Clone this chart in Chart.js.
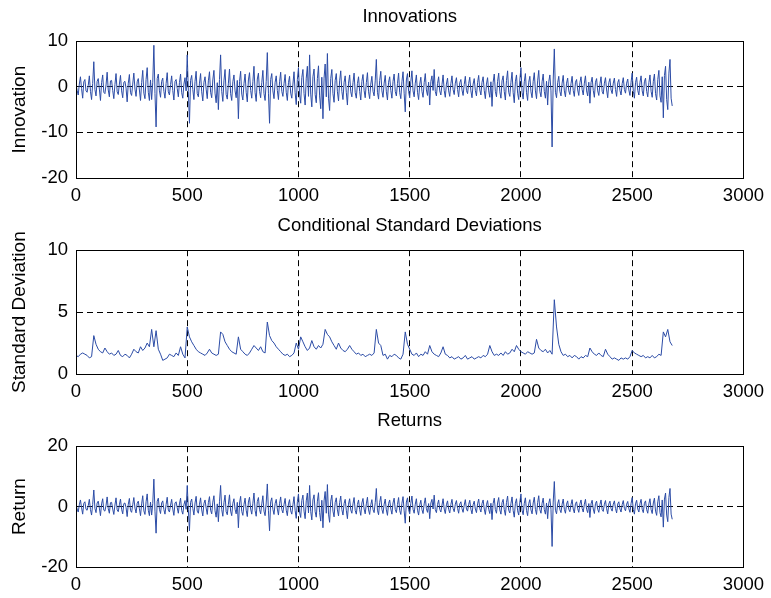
<!DOCTYPE html>
<html>
<head>
<meta charset="utf-8">
<script src="https://cdn.jsdelivr.net/npm/chart.js@4/dist/chart.umd.min.js"></script>
<style>
  body { margin: 0; background: #fff; }
  canvas { display: block; }
</style>
</head>
<body>
<canvas id="innov" width="771" height="210"></canvas>
<canvas id="sigma" width="771" height="190"></canvas>
<canvas id="ret" width="771" height="198"></canvas>
<script>
// samples: innovations every 5 obs, sigma every 10
const INNOV_STEP = 5;
const SIGMA_STEP = 10;

const innovations = [
  0.5, -0.8, -1.8, 0.6, 2.2, -0.4, -2.5, 1.1, 1.6, -0.9, -1.2, 0.3, 2.4, -1.0, -2.8, 0.7, 5.5, -0.6, -2.0, 1.2,
  1.8, -0.5, -3.0, 0.9, 2.6, -1.2, -1.5, 0.4, 3.2, -0.7, -2.2, 1.3, 1.4, -0.8, -2.6, 0.5, 2.9, -1.1, -1.7, 0.6,
  2.5, -0.9, -2.4, 1.0, 1.2, -0.3, -3.3, 0.8, 2.7, -1.3, -1.9, 0.6, 3.0, -0.5, -2.1, 1.1, 1.8, -0.7, -3.0, 0.9,
  3.6, -1.4, -2.6, 1.6, 4.2, -1.2, -3.0, 1.5, -2.8, 1.0, 9.1, -1.5, -8.8, 1.8, 2.8, -0.9, -2.3, 1.2, 1.9, -1.0,
  -2.5, 0.7, 3.1, -1.1, -1.8, 0.5, 2.4, -0.8, -2.9, 1.2, 1.6, -0.4, -2.2, 0.9, 2.8, -1.3, -2.5, 0.6, 2.0, -0.9,
  7.0, -1.0, -8.0, 1.4, 2.5, -0.6, -2.8, 1.2, 3.4, -1.5, -2.2, 0.8, 2.9, -1.1, -3.1, 1.0, 2.2, -0.5, -2.6, 1.3,
  3.3, -1.2, -2.4, 1.5, 3.6, -1.4, -3.5, 0.9, -5.0, 1.6, 7.0, -1.0, -3.2, 1.3, 3.8, -1.7, -2.7, 0.8, 3.9, -1.5,
  -3.0, 1.1, 2.6, -0.9, -2.4, 1.4, -7.0, 1.2, 3.4, -1.6, -2.9, 0.7, 2.8, -1.2, -3.3, 1.5, 3.1, -0.8, -2.5, 1.1,
  4.5, -1.3, -3.2, 1.7, 3.0, -1.0, -2.4, 0.9, 3.6, -1.5, -3.0, 1.2, 7.5, -1.4, -8.0, 1.6, 2.9, -0.9, -2.6, 1.0,
  2.4, -0.8, -2.8, 1.1, 3.2, -1.0, -2.1, 0.7, 2.7, -1.2, -3.0, 0.9, 2.3, -1.4, -2.5, 0.6, 3.3, -1.3, -3.9, 1.6,
  4.2, -1.8, -3.6, 2.0, 3.8, -1.5, -4.0, 1.9, 4.5, -2.1, 7.0, -1.6, -4.4, 2.2, 3.9, -1.7, -3.5, 1.8, 4.6, -2.0,
  -4.8, 2.1, -7.0, 1.9, 5.0, -2.2, 7.3, -2.5, -5.2, 1.8, 3.8, -1.5, -3.4, 1.4, 2.9, -1.1, -3.1, 1.3, 3.5, -1.0,
  -2.8, 1.0, 2.4, -1.2, -4.0, 0.8, 2.6, -1.1, -2.2, 0.9, 3.0, -1.3, -2.5, 0.7, 2.2, -1.0, -2.9, 1.2, 2.7, -0.8,
  -2.4, 0.9, 3.1, -1.1, -2.6, 0.6, 2.3, -1.0, -2.0, 1.3, 6.0, -1.2, -2.7, 1.4, 3.4, -0.9, -2.3, 0.8, 2.5, -1.1,
  -2.9, 1.0, 2.2, -0.8, -2.5, 1.2, 2.8, -1.0, -2.0, 0.7, 3.0, -1.3, -2.6, 1.1, 3.3, -1.4, -5.5, 1.5, 2.9, -1.0,
  -2.4, 1.1, 3.5, -0.9, -2.2, 0.8, 2.6, -1.2, -2.8, 0.6, 2.1, -1.0, -2.3, 0.9, 2.9, -0.7, -1.9, 1.0, -4.0, 1.2,
  2.4, -0.8, 3.8, -1.0, -2.0, 0.7, 2.2, -0.9, -1.8, 0.5, 2.6, -0.8, -2.3, 0.6, 1.9, -0.9, -2.1, 0.7, 2.4, -0.6,
  -1.7, 0.8, 2.0, -0.6, -2.2, 0.9, 1.6, -0.7, -1.9, 0.5, 2.3, -0.8, -1.5, 0.7, 2.1, -0.9, -2.4, 0.6, 1.8, -0.8,
  -2.0, 0.9, 2.5, -0.7, -1.8, 1.0, 2.2, -0.8, -2.6, 0.6, 2.0, -0.9, -2.3, 1.1, -4.3, 1.0, 2.8, -1.0, -2.2, 1.2,
  3.0, -1.1, -2.5, 1.3, 2.4, -1.0, -2.9, 1.4, 3.5, -1.2, -2.1, 1.0, 3.2, -1.3, -3.5, 1.1, 2.6, -1.4, -2.8, 1.5,
  4.2, -1.2, -2.7, 1.1, 2.9, -1.3, -3.0, 1.0, 2.3, -1.1, -2.4, 1.2, 3.1, -0.9, -2.6, 1.3, 3.6, -1.0, -2.2, 1.1,
  2.8, -1.0, -2.5, 1.2, -4.0, 1.1, 2.6, -0.9, -13.2, 1.5, 8.3, -1.2, -2.4, 0.9, 2.3, -1.0, -2.0, 0.8, 2.5, -0.9,
  -2.2, 0.8, 1.9, -0.9, -1.7, 0.7, 2.3, -0.8, -2.1, 1.0, 1.6, -0.7, -1.9, 0.9, 2.2, -0.6, -1.8, 0.8, 2.4, -0.9,
  -2.0, 1.0, -3.6, 0.9, 2.1, -0.8, -2.3, 1.0, 1.8, -0.9, -1.9, 0.7, 2.2, -1.0, -1.6, 0.8, 2.0, -0.7, -2.4, 0.9,
  1.8, -0.7, -1.5, 0.8, 1.9, -0.6, -2.1, 0.9, 1.6, -0.8, -1.8, 0.7, 2.0, -0.6, -1.4, 0.8, 1.7, -0.7, -1.9, 1.0,
  3.0, -1.0, -2.5, 0.9, 2.1, -0.8, -1.8, 1.0, 2.4, -0.9, -2.0, 1.1, 1.9, -1.0, -2.2, 0.9, 2.6, -1.0, -2.3, 1.2,
  2.8, -1.5, -2.9, 1.6, 3.6, -2.0, -3.4, 2.2, -6.8, 2.5, 4.5, -2.8, -5.0, 3.0, 6.0, -2.5, -4.2
];

const stdDevs = [
  1.5, 1.4, 1.6, 1.7, 1.6, 1.5, 1.3, 1.4, 3.1, 2.4,
  2.0, 1.8, 1.7, 2.1, 1.8, 1.6, 1.7, 1.5, 1.6, 1.9,
  1.5, 1.4, 1.6, 1.5, 1.3, 1.6, 2.0, 1.8, 1.7, 2.2,
  1.9, 2.1, 2.5, 2.2, 3.6, 2.2, 3.5, 2.0, 1.6, 1.1,
  1.2, 1.3, 1.6, 1.5, 1.4, 1.7, 1.5, 2.2, 1.6, 1.3,
  3.8, 3.0, 2.6, 2.3, 2.0, 1.8, 1.7, 1.6, 1.5, 1.7,
  2.0, 1.7, 1.6, 1.5, 1.6, 3.4, 3.2, 2.6, 2.3, 2.0,
  1.8, 1.7, 1.6, 3.0, 2.0, 1.8, 1.6, 1.5, 1.7, 2.0,
  2.3, 2.1, 1.9, 2.2, 1.8, 1.7, 4.2, 3.1, 2.7, 2.5,
  2.2, 2.0, 1.8, 1.6, 1.5, 1.6, 1.4, 1.5, 1.7, 2.5,
  2.0, 3.0, 2.6, 2.2, 1.9, 2.1, 2.7, 2.2, 2.0, 2.3,
  2.1, 2.4, 3.6, 3.2, 3.0, 2.6, 2.3, 2.0, 2.5, 2.1,
  1.9, 1.8, 2.0, 2.3, 2.0, 1.8, 1.6, 1.7, 1.5, 1.6,
  1.4, 1.5, 1.6, 1.5, 1.7, 3.6, 2.5, 2.3, 1.5, 1.6,
  1.2, 1.5, 1.4, 1.6, 1.5, 1.3, 1.2, 1.6, 3.4, 2.4,
  2.0, 1.6, 1.5, 1.7, 1.4, 1.6, 1.5, 1.8, 1.6, 2.3,
  1.8, 1.6, 1.5, 1.4, 1.7, 2.2, 1.6, 1.5, 1.3, 1.4,
  1.2, 1.3, 1.4, 1.2, 1.3, 1.5, 1.2, 1.3, 1.4, 1.2,
  1.3, 1.4, 1.3, 1.5, 1.4, 1.6, 2.3, 1.8, 1.5, 1.6,
  1.5, 1.7, 1.5, 1.8, 1.6, 1.7, 2.0, 1.8, 2.3, 2.0,
  1.8, 1.7, 1.6, 1.8, 1.7, 1.6, 1.7, 2.8, 2.1, 1.9,
  1.8, 2.0, 1.7, 1.9, 1.6, 6.0, 3.8, 2.4, 1.8, 1.5,
  1.6, 1.4, 1.5, 1.3, 1.5, 1.4, 1.2, 1.4, 1.3, 1.5,
  1.4, 2.1, 1.8, 1.6, 1.5, 1.7, 1.5, 1.4, 2.0, 1.6,
  1.4, 1.2, 1.3, 1.2, 1.1, 1.3, 1.2, 1.3, 1.2, 1.4,
  1.9, 1.7, 1.6, 1.5, 1.4, 1.5, 1.3, 1.4, 1.3, 1.5,
  1.3, 1.4, 1.6, 1.5, 3.4, 3.0, 3.6, 2.6, 2.3
];

// returns trace the innovations almost exactly in the figure
const returns = innovations;

const titles = ['Innovations', 'Conditional Standard Deviations', 'Returns'];
const yLabels = ['Innovation', 'Standard Deviation', 'Return'];
const yMin = [-20, 0, -20];
const yMax = [10, 10, 20];
const yStep = [10, 5, 20];
const xMax = 3000;
const xStep = 500;

const FONT = "'Liberation Sans', Arial, Helvetica, sans-serif";
const LINE = 'rgb(44, 76, 166)';

const framePlugin = {
  id: 'frame',
  afterDatasetsDraw(chart) {
    const { ctx, chartArea: a } = chart;
    ctx.save();
    ctx.strokeStyle = '#000';
    ctx.lineWidth = 1;
    ctx.strokeRect(Math.round(a.left) + 0.5, Math.round(a.top) + 0.5,
      Math.round(a.right - a.left), Math.round(a.bottom - a.top));
    ctx.restore();
  }
};

function toPoints(values, step) {
  return values.map((v, i) => ({ x: i * step, y: v }));
}

function gridColor(min, max) {
  return c => (c.tick && (c.tick.value === min || c.tick.value === max)) ? 'rgba(0,0,0,0)' : '#000';
}

const plain = v => String(v);

function makePanel(id, k, values, step, titlePad, xAxisHeight) {
  const ctx = document.getElementById(id).getContext('2d');
  return new Chart(ctx, {
    type: 'line',
    data: {
      datasets: [{
        data: toPoints(values, step),
        borderColor: LINE,
        borderWidth: 1,
        pointRadius: 0,
        tension: 0,
        fill: false
      }]
    },
    options: {
      responsive: false,
      animation: false,
      events: [],
      layout: { padding: { left: 0, right: 25, top: 0, bottom: 0 } },
      plugins: {
        legend: { display: false },
        tooltip: { enabled: false },
        title: {
          display: true,
          text: titles[k],
          color: '#000',
          fullSize: false,
          font: { family: FONT, size: 18.5, weight: 'normal' },
          padding: titlePad
        }
      },
      scales: {
        x: {
          type: 'linear',
          min: 0,
          max: xMax,
          afterFit: s => { s.height = xAxisHeight; },
          ticks: {
            stepSize: xStep,
            color: '#000',
            padding: 7,
            maxRotation: 0,
            callback: plain,
            font: { family: FONT, size: 18.5 }
          },
          grid: { color: gridColor(0, xMax), lineWidth: 1, drawTicks: false },
          border: { display: true, color: '#000', dash: [6, 4] }
        },
        y: {
          min: yMin[k],
          max: yMax[k],
          afterFit: s => { s.width = 76; },
          ticks: {
            stepSize: yStep[k],
            color: '#000',
            padding: 8,
            callback: plain,
            font: { family: FONT, size: 18.5 }
          },
          grid: { color: gridColor(yMin[k], yMax[k]), lineWidth: 1, drawTicks: false },
          border: { display: true, color: '#000', dash: [6, 4] },
          title: {
            display: true,
            text: yLabels[k],
            color: '#000',
            padding: { top: 8, bottom: 0 },
            font: { family: FONT, size: 19 }
          }
        }
      }
    },
    plugins: [framePlugin]
  });
}

makePanel('innov', 0, innovations, INNOV_STEP, { top: 6, bottom: 13 }, 32);
makePanel('sigma', 1, stdDevs, SIGMA_STEP, { top: 5, bottom: 13 }, 26);
makePanel('ret', 2, returns, INNOV_STEP, { top: 10, bottom: 14 }, 31);
</script>
</body>
</html>
